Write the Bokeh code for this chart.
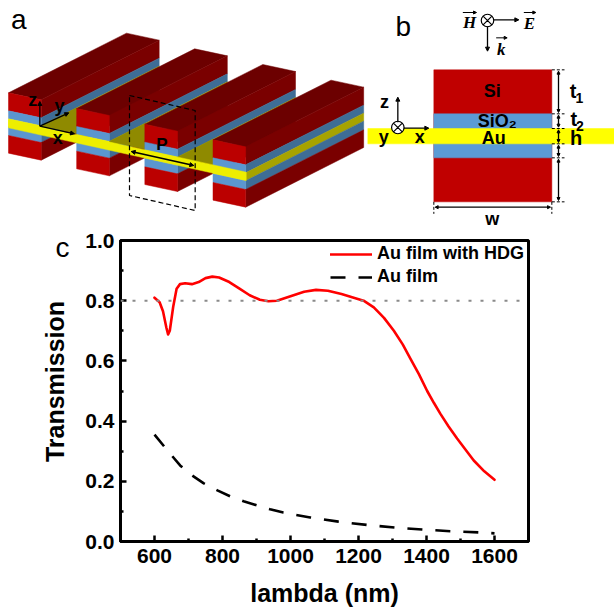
import math
from bokeh.plotting import figure
from bokeh.layouts import column
from bokeh.embed import file_html
from bokeh.resources import INLINE
from bokeh.core.properties import value
from bokeh.models import (Arrow, NormalHead, Range1d, FixedTicker, Span, Legend, LegendItem, NumeralTickFormatter)

# ---- chart data (panel c) ----
hdg_lambda = [600, 615, 625, 635, 640, 645, 655, 665, 675, 690, 710, 730, 750, 770, 790, 820, 850, 880, 910, 935,
              960, 1000, 1040, 1075, 1110, 1150, 1186, 1215, 1245, 1275, 1304, 1330, 1353, 1378, 1402, 1422, 1441,
              1465, 1490, 1515, 1539, 1570, 1600]
hdg_trans = [0.81, 0.795, 0.765, 0.71, 0.688, 0.70, 0.78, 0.84, 0.855, 0.858, 0.855, 0.862, 0.875, 0.88, 0.877,
             0.862, 0.84, 0.818, 0.803, 0.798, 0.80, 0.815, 0.83, 0.836, 0.833, 0.822, 0.81, 0.80, 0.778, 0.743,
             0.70, 0.655, 0.607, 0.555, 0.50, 0.46, 0.424, 0.382, 0.342, 0.305, 0.269, 0.233, 0.205]
film_lambda = [600, 640, 676, 710, 745, 785, 823, 862, 902, 940, 979, 1058, 1141, 1225, 1308, 1387, 1470, 1558, 1600]
film_trans = [0.355, 0.30, 0.252, 0.22, 0.193, 0.17, 0.15, 0.134, 0.12, 0.107, 0.096, 0.08, 0.066, 0.055, 0.046,
              0.04, 0.034, 0.03, 0.027]
x_ticks = [600, 800, 1000, 1200, 1400, 1600]
x_minor = [500, 700, 900, 1100, 1300, 1500, 1700]
y_ticks = [0.0, 0.2, 0.4, 0.6, 0.8, 1.0]
y_minor = [0.1, 0.3, 0.5, 0.7, 0.9]
reference_level = 0.8

FONT = "Liberation Sans"
W, H_FULL, H_BOT = 614, 610, 381

# ---- diagrams (a, b) and free texts: a full-page canvas whose range equals picture pixels ----
d = figure(width=W, height=H_FULL, x_range=Range1d(0, 614), y_range=Range1d(H_FULL, 0), x_axis_type=None,
           y_axis_type=None, toolbar_location=None, output_backend="svg", min_border=0, outline_line_color=None,
           frame_align=False)
d.grid.visible = False


def A(pts):
    return [p[0] / 3 for p in pts], [p[1] / 3 for p in pts]


def B(pts):
    return [350 + p[0] / 3 for p in pts], [p[1] / 3 for p in pts]


def poly(conv, pts, color):
    xs, ys = conv(pts)
    d.patch(xs, ys, fill_color=color, line_color=color, line_width=0.5)


def seg(conv, p0, p1, dash="solid", w=1.3, color="black"):
    xs, ys = conv([p0, p1])
    d.line(xs, ys, line_color=color, line_width=w, line_dash=dash)


def arrow(conv, p0, p1, both=False, size=5, w=1.3):
    xs, ys = conv([p0, p1])
    head = NormalHead(size=size, fill_color="black", line_color="black")
    start = NormalHead(size=size, fill_color="black", line_color="black") if both else None
    d.add_layout(Arrow(end=head, start=start, x_start=xs[0], y_start=ys[0], x_end=xs[1], y_end=ys[1],
                       line_color="black", line_width=w))


def txt(conv, pos, s, size, bold=True, font=FONT, italic=False):
    xs, ys = conv([pos])
    style = "bold italic" if bold and italic else ("bold" if bold else "normal")
    d.text(xs, ys, text=[s], text_font=value(font), text_font_size=size, text_font_style=style,
           text_align="center", text_baseline="middle", text_color="black")


LAYERS = [0, 54, 78, 102, 128, 181]
FRONT = ["#bb0000", "#5b96cf", "#eeee00", "#5b96cf", "#bb0000"]
SIDE = ["#7a0000", "#3e6d96", "#a7a300", "#3e6d96", "#7a0000"]
DX, DY = 354, -179
FW, FS = 98, 21
for k in range(4):
    x0, y0 = 24 + 204.5 * k, 277 + 47 * k
    poly(A, [(x0, y0), (x0 + FW, y0 + FS), (x0 + FW + DX, y0 + FS + DY), (x0 + DX, y0 + DY)], "#6c0000")
    for i in range(5):
        o1, o2 = LAYERS[i], LAYERS[i + 1]
        poly(A, [(x0 + FW, y0 + FS + o1), (x0 + FW + DX, y0 + FS + DY + o1),
                 (x0 + FW + DX, y0 + FS + DY + o2), (x0 + FW, y0 + FS + o2)], SIDE[i])
        poly(A, [(x0, y0 + o1), (x0 + FW, y0 + FS + o1), (x0 + FW, y0 + FS + o2), (x0, y0 + o2)], FRONT[i])
    if k < 3:
        gx = x0 + FW
        gy = y0 + FS + 78
        poly(A, [(gx, gy), (gx + 106.5, gy - 53.9), (gx + 106.5, gy + 23.4)], "#8f8a00")
poly(A, [(24, 358), (737, 515), (737, 540), (24, 382)], "#eeee00")

xs, ys = A([(387, 285), (584, 330), (584, 630), (387, 585), (387, 285)])
d.line(xs, ys, line_color="black", line_width=1.2, line_dash="5 3")
arrow(A, (392, 453), (580, 495), both=True, size=4, w=1.6)
txt(A, (484, 433), "P", "17px")
arrow(A, (118, 377), (118, 303), size=4)
arrow(A, (118, 377), (205, 337), size=4)
arrow(A, (118, 377), (222, 400), size=4)
txt(A, (97, 298), "z", "18px")
txt(A, (177, 316), "y", "18px")
txt(A, (172, 412), "x", "18px")
txt(A, (55, 58), "a", "28px", bold=False)

# panel b
poly(B, [(250, 208), (604, 208), (604, 604), (250, 604)], "#c00000")
poly(B, [(250, 340), (604, 340), (604, 472), (250, 472)], "#5b9bd5")
poly(B, [(52, 384), (792, 384), (792, 430), (52, 430)], "#ffff00")
txt(B, (425, 270), "Si", "18px")
txt(B, (440, 360), "SiO\u2082", "18px")
txt(B, (430, 413), "Au", "18px")
txt(B, (668, 272), "t", "20px")
txt(B, (687, 292), "1", "14px")
txt(B, (670, 354), "t", "20px")
txt(B, (688, 375), "2", "14px")
txt(B, (677, 412), "h", "20px")
txt(B, (425, 656), "w", "18px")
for yy in [208, 340, 384, 430, 472, 604]:
    seg(B, (604, yy), (642, yy), dash="3 2", w=1)
arrow(B, (624, 212), (624, 336), both=True, size=3)
arrow(B, (624, 344), (624, 380), both=True, size=3)
arrow(B, (624, 388), (624, 426), both=True, size=3)
arrow(B, (624, 434), (624, 468), both=True, size=3)
arrow(B, (624, 476), (624, 600), both=True, size=3)
arrow(B, (254, 620), (600, 620), both=True, size=3)
seg(B, (250, 604), (250, 640), dash="3 2", w=1)
seg(B, (604, 604), (604, 640), dash="3 2", w=1)


def cross_circle(cx, cy):
    xs, ys = B([(cx, cy)])
    d.scatter(xs, ys, marker="circle_x", size=12.5, fill_color="white", line_color="black", line_width=1.2)


arrow(B, (142, 365), (142, 290), size=4)
arrow(B, (160, 383), (235, 383), size=4)
cross_circle(142, 381)
txt(B, (102, 305), "z", "18px")
txt(B, (100, 410), "y", "18px")
txt(B, (208, 410), "x", "18px")
arrow(B, (429, 58), (505, 58), size=4)
arrow(B, (411, 78), (411, 152), size=4)
cross_circle(411, 60)
txt(B, (357, 66), "H", "17px", font="Liberation Serif", italic=True)
txt(B, (537, 68), "E", "17px", font="Liberation Serif", italic=True)
txt(B, (452, 148), "k", "17px", font="Liberation Serif", italic=True)
arrow(B, (337, 36), (378, 36), size=3, w=1)
arrow(B, (520, 36), (556, 36), size=3, w=1)
arrow(B, (437, 112), (470, 112), size=3, w=1)
txt(B, (158, 78), "b", "28px", bold=False)

# free texts of panel c, on the same canvas
d.text([62], [247], text=["c"], text_font=value(FONT), text_font_size="28px", text_align="center",
       text_baseline="middle", text_color="black")
d.text([54], [381], text=["Transmission"], text_font=value(FONT), text_font_size="25px",
       text_font_style="bold", text_align="center", text_baseline="alphabetic", angle=math.pi / 2,
       text_color="black")

# ---- panel c: laid over the lower part of the canvas above ----
p = figure(width=W, height=H_BOT, x_range=Range1d(500, 1700), y_range=Range1d(0, 1), toolbar_location=None,
           output_backend="svg", min_border_left=120, min_border_right=86, min_border_top=11, min_border_bottom=69,
           outline_line_color="black", outline_line_width=3, outline_line_alpha=1, frame_align=False,
           background_fill_alpha=0, border_fill_alpha=0, margin=(-H_BOT, 0, 0, 0))
p.grid.visible = False
p.xaxis.ticker = FixedTicker(ticks=x_ticks, minor_ticks=x_minor)
p.yaxis.ticker = FixedTicker(ticks=y_ticks, minor_ticks=y_minor)
p.yaxis.formatter = NumeralTickFormatter(format="0.0")
for ax in (p.xaxis[0], p.yaxis[0]):
    ax.axis_line_color = "black"
    ax.axis_line_width = 3
    ax.major_tick_in = 6
    ax.major_tick_out = 0
    ax.minor_tick_in = 3
    ax.minor_tick_out = 0
    ax.major_tick_line_width = 2.5
    ax.minor_tick_line_width = 2.5
    ax.major_tick_line_color = "black"
    ax.minor_tick_line_color = "black"
    ax.major_label_text_font = FONT
    ax.major_label_text_font_style = "bold"
    ax.major_label_text_font_size = "21px"
    ax.major_label_text_color = "black"
    ax.axis_label_text_font = FONT
    ax.axis_label_text_font_style = "bold"
    ax.axis_label_text_font_size = "25px"
    ax.axis_label_text_color = "black"
p.xaxis.axis_label = "lambda (nm)"
p.xaxis.major_label_standoff = 7
p.xaxis.axis_label_standoff = 13
p.yaxis.major_label_standoff = 6
p.yaxis.major_label_orientation = "horizontal"

p.add_layout(Span(location=reference_level, dimension="width", line_color="#8a8a8a", line_width=2,
                  line_dash="3 9"))
r1 = p.line(hdg_lambda, hdg_trans, line_color="#ff0000", line_width=2.6, line_cap="round", line_join="round")
r2 = p.line(film_lambda, film_trans, line_color="black", line_width=2.6, line_dash="15 13")

legend = Legend(items=[LegendItem(label="Au film with HDG", renderers=[r1]), LegendItem(label="Au film", renderers=[r2])],
                location=(210, 254), orientation="vertical", background_fill_alpha=0, border_line_alpha=0,
                padding=0, margin=0, spacing=2, glyph_width=42, glyph_height=20, label_height=20,
                label_standoff=5, label_text_font=FONT, label_text_font_style="bold",
                label_text_font_size="18px", label_text_color="black")
p.add_layout(legend, "center")

open("out.html", "w").write(file_html(column(d, p, spacing=0), INLINE))
